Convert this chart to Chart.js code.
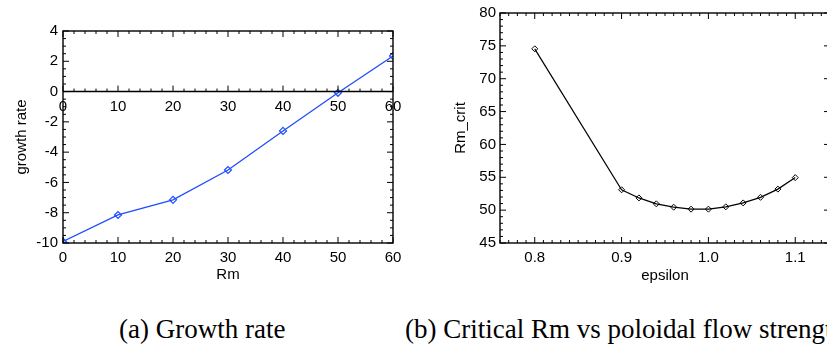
<!DOCTYPE html>
<html>
<head>
<meta charset="utf-8">
<script src="https://cdn.jsdelivr.net/npm/chart.js@4.4.1/dist/chart.umd.min.js"></script>
<style>
  html, body { margin: 0; padding: 0; background: #fff; }
  body { width: 827px; height: 350px; position: relative; overflow: hidden; }
  canvas { position: absolute; top: 0; }
  #growthChart { left: 0; }
  #critChart { left: 410px; }
  .caption { position: absolute; top: 316px; font: 27px/27px "Liberation Serif", "Times New Roman", serif; white-space: nowrap; color: #000; }
</style>
</head>
<body>
<canvas id="growthChart" width="410" height="300"></canvas>
<canvas id="critChart" width="425" height="300"></canvas>
<div class="caption" style="left:119px">(a) Growth rate</div>
<div class="caption" style="left:405px">(b) Critical Rm vs poloidal flow strength</div>
<script>
// panel (a)
let rmValues = [0, 10, 20, 30, 40, 50, 60]
let growthRate = [-9.9, -8.15, -7.15, -5.18, -2.6, -0.08, 2.35]
let rmTicks = [0, 10, 20, 30, 40, 50, 60]
let growthTicks = [-10, -8, -6, -4, -2, 0, 2, 4]

// panel (b)
let epsilon = [0.8, 0.9, 0.92, 0.94, 0.96, 0.98, 1.0, 1.02, 1.04, 1.06, 1.08, 1.1]
let rmCrit = [74.55, 53.1, 51.86, 50.96, 50.45, 50.15, 50.15, 50.5, 51.1, 51.95, 53.2, 54.95]
let epsTicks = [0.8, 0.9, 1.0, 1.1]
let rmCritTicks = [45, 50, 55, 60, 65, 70, 75, 80]

Chart.defaults.font.family = '"Liberation Sans", Arial, sans-serif'
Chart.defaults.font.size = 15
Chart.defaults.color = "#000"

// IDL style box with inward major / minor ticks on every side
const idlFrame = {
  id: "idlFrame",
  afterDraw(chart, args, opts) {
    const { ctx, chartArea: a, scales } = chart
    const xs = scales.x, ys = scales.y
    ctx.save()
    ctx.strokeStyle = "#000"
    ctx.lineWidth = 1.4
    ctx.strokeRect(a.left, a.top, a.right - a.left, a.bottom - a.top)

    const y0 = opts.zeroLine ? ys.getPixelForValue(0) : null
    if (y0 !== null) {
      ctx.beginPath()
      ctx.moveTo(a.left, y0)
      ctx.lineTo(a.right, y0)
      ctx.stroke()
    }

    ctx.lineWidth = 1
    ctx.beginPath()
    let ratio = Math.round(opts.xMajor / opts.xMinor)
    for (let k = Math.ceil(xs.min / opts.xMinor - 1e-6); k <= Math.floor(xs.max / opts.xMinor + 1e-6); k++) {
      const px = xs.getPixelForValue(k * opts.xMinor)
      const len = k % ratio === 0 ? 6 : 3
      ctx.moveTo(px, a.bottom); ctx.lineTo(px, a.bottom - len)
      ctx.moveTo(px, a.top); ctx.lineTo(px, a.top + len)
      if (y0 !== null) { ctx.moveTo(px, y0); ctx.lineTo(px, y0 - len) }
    }
    ratio = Math.round(opts.yMajor / opts.yMinor)
    for (let k = Math.ceil(ys.min / opts.yMinor - 1e-6); k <= Math.floor(ys.max / opts.yMinor + 1e-6); k++) {
      const py = ys.getPixelForValue(k * opts.yMinor)
      const len = k % ratio === 0 ? 6 : 3
      ctx.moveTo(a.left, py); ctx.lineTo(a.left + len, py)
      ctx.moveTo(a.right, py); ctx.lineTo(a.right - len, py)
    }
    ctx.stroke()
    ctx.restore()
  }
}

const setTicks = (list) => (scale) => { scale.ticks = list.map(v => ({ value: v })) }
const noGrid = { display: false, drawTicks: false }

new Chart(document.getElementById("growthChart"), {
  type: "line",
  data: {
    datasets: [{
      data: rmValues.map((x, i) => ({ x, y: growthRate[i] })),
      borderColor: "#1f4dff",
      borderWidth: 1.3,
      pointStyle: "rectRot",
      pointRadius: 3.5,
      pointBorderWidth: 1.2,
      pointBorderColor: "#1f4dff",
      pointBackgroundColor: "rgba(0,0,0,0)",
      tension: 0
    }]
  },
  options: {
    responsive: false,
    animation: false,
    events: [],
    layout: { padding: { top: 31, right: 17, left: 0, bottom: 0 } },
    plugins: {
      legend: { display: false },
      tooltip: { enabled: false },
      idlFrame: { xMinor: 2, xMajor: 10, yMinor: 0.5, yMajor: 2, zeroLine: true }
    },
    scales: {
      x: {
        type: "linear", min: 0, max: 60,
        afterBuildTicks: setTicks(rmTicks),
        afterFit: (s) => { s.height = 57 },
        grid: noGrid, border: { display: false },
        ticks: { padding: 6, maxRotation: 0, autoSkip: false },
        title: { display: true, text: "Rm", font: { size: 15 }, padding: { top: 0, bottom: 16 } }
      },
      // second set of Rm labels along the zero line
      x2: {
        type: "linear", axis: "x", position: { y: 0 }, min: 0, max: 60,
        afterBuildTicks: setTicks(rmTicks),
        grid: noGrid, border: { display: false },
        ticks: { padding: 6, maxRotation: 0, autoSkip: false }
      },
      y: {
        type: "linear", min: -10, max: 4,
        afterBuildTicks: setTicks(growthTicks),
        afterFit: (s) => { s.width = 63 },
        grid: noGrid, border: { display: false },
        ticks: { padding: 5, autoSkip: false },
        title: { display: true, text: "growth rate", font: { size: 15 }, padding: { top: 13, bottom: 0 } }
      }
    }
  },
  plugins: [idlFrame]
})

new Chart(document.getElementById("critChart"), {
  type: "line",
  data: {
    datasets: [{
      data: epsilon.map((x, i) => ({ x, y: rmCrit[i] })),
      borderColor: "#000",
      borderWidth: 1.2,
      pointStyle: "rectRot",
      pointRadius: 3,
      pointBorderWidth: 1,
      pointBorderColor: "#000",
      pointBackgroundColor: "rgba(0,0,0,0)",
      tension: 0
    }]
  },
  options: {
    responsive: false,
    animation: false,
    events: [],
    layout: { padding: { top: 10, right: 5, left: 0, bottom: 0 } },
    plugins: {
      legend: { display: false },
      tooltip: { enabled: false },
      idlFrame: { xMinor: 0.01, xMajor: 0.1, yMinor: 1, yMajor: 5, zeroLine: false }
    },
    scales: {
      x: {
        type: "linear", min: 0.76, max: 1.14,
        afterBuildTicks: setTicks(epsTicks),
        afterFit: (s) => { s.height = 57 },
        grid: noGrid, border: { display: false },
        ticks: { padding: 6, maxRotation: 0, autoSkip: false, callback: (v) => v.toFixed(1) },
        title: { display: true, text: "epsilon", font: { size: 15 }, padding: { top: 0, bottom: 15 } }
      },
      y: {
        type: "linear", min: 45, max: 80,
        afterBuildTicks: setTicks(rmCritTicks),
        afterFit: (s) => { s.width = 90 },
        grid: noGrid, border: { display: false },
        ticks: { padding: 4, autoSkip: false },
        title: { display: true, text: "Rm_crit", font: { size: 15 }, padding: { top: 42, bottom: 0 } }
      }
    }
  },
  plugins: [idlFrame]
})
</script>
</body>
</html>
